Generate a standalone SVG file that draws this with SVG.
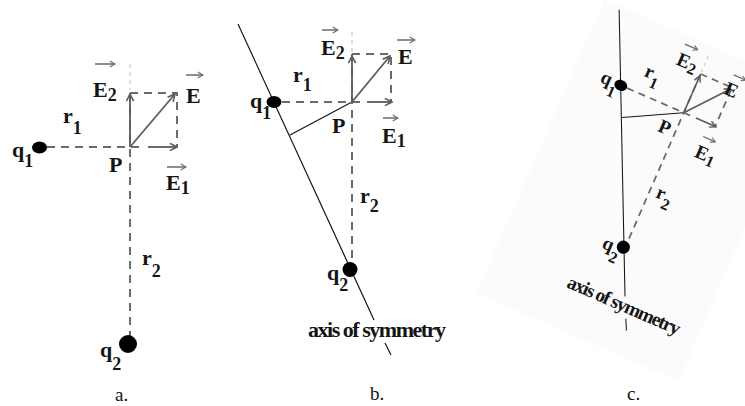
<svg xmlns="http://www.w3.org/2000/svg" width="745" height="406" viewBox="0 0 745 406">
<style>
.lbl{font-family:"Liberation Serif","Times New Roman",serif;font-weight:bold;font-size:22px;fill:#151515}
.sub{font-size:18px}
.cap{font-family:"Liberation Serif","Times New Roman",serif;font-size:19px;fill:#111}
.dash{stroke:#6a6a6a;stroke-width:2;stroke-dasharray:8 6;fill:none}
.faint{stroke:#d2d2d2;stroke-width:1.5;stroke-dasharray:4 4;fill:none}
.vec{stroke:#5c5c5c;stroke-width:1.8;fill:none;marker-end:url(#ah)}
.sym{stroke:#6a6a6a;stroke-width:1.5;fill:none;marker-end:url(#sh)}
.axis{stroke:#151515;stroke-width:1.2;fill:none}
.chg{fill:#000}
</style>
<defs>
<marker id="ah" viewBox="0 0 10 10" refX="9" refY="5" markerWidth="5" markerHeight="5" orient="auto">
<path d="M1,1 L9,5 L1,9" fill="none" stroke="#5c5c5c" stroke-width="1.8"/>
</marker>
<marker id="sh" viewBox="0 0 10 10" refX="9" refY="5" markerWidth="5" markerHeight="5" orient="auto">
<path d="M2,1 L9,5 L2,9" fill="none" stroke="#6a6a6a" stroke-width="1.6"/>
</marker>
</defs>

<!-- Panel a -->
<g id="panel-a">
<g id="a-connectors">
<path class="dash" d="M47,147 H141"/>
<path class="dash" d="M130,93 V336"/>
<path class="faint" d="M130,64 V90"/>
<path class="dash" d="M130,93 H177 V147"/>
<path class="vec" d="M148,147 H177"/>
<path class="vec" d="M130,147 V94"/>
<path class="vec" d="M130,147 L175,94"/>
<path class="sym" d="M95,64 H115"/>
<path class="sym" d="M186,75 H203"/>
<path class="sym" d="M167,167 H186"/>
</g>
<g id="a-q1"><ellipse class="chg" cx="39.5" cy="147.5" rx="7.5" ry="6"/><text class="lbl" x="12" y="157">q<tspan class="sub" dy="10">1</tspan></text></g>
<g id="a-q2"><circle class="chg" cx="128" cy="344" r="9"/><text class="lbl" x="100" y="357">q<tspan class="sub" dy="13">2</tspan></text></g>
<g id="a-P"><text class="lbl" x="109" y="172">P</text></g>
<g id="a-labels">
<text class="lbl" x="93" y="97">E<tspan class="sub" dy="4">2</tspan></text>
<text class="lbl" x="186" y="103">E</text>
<text class="lbl" x="166" y="190">E<tspan class="sub" dy="4">1</tspan></text>
<text class="lbl" x="63" y="123">r<tspan class="sub" dy="11">1</tspan></text>
<text class="lbl" x="142" y="265">r<tspan class="sub" dy="12">2</tspan></text>
<text class="cap" x="115" y="401">a.</text>
</g>
</g>

<!-- Panel b -->
<g id="panel-b">
<g id="b-connectors">
<path class="axis" d="M238,24 L374,320 M385,343 L391,355"/>
<path class="axis" d="M352,102 L290,135"/>
<path class="dash" d="M282,102 H360"/>
<path class="dash" d="M352,54 V262"/>
<path class="faint" d="M352,32 V52"/>
<path class="dash" d="M352,54 H391 V102"/>
<path class="vec" d="M367,102 H392"/>
<path class="vec" d="M352,102 V56"/>
<path class="vec" d="M352,102 L390,56"/>
<path class="sym" d="M322,30 H338"/>
<path class="sym" d="M397,40 H415"/>
<path class="sym" d="M383,118 H398"/>
</g>
<g id="b-q1"><ellipse class="chg" cx="274" cy="102" rx="7.5" ry="6"/><text class="lbl" x="250" y="108">q<tspan class="sub" dy="11">1</tspan></text></g>
<g id="b-q2"><circle class="chg" cx="350" cy="269.5" r="7.5"/><text class="lbl" x="327" y="280">q<tspan class="sub" dy="11">2</tspan></text></g>
<g id="b-P"><text class="lbl" x="332" y="133">P</text></g>
<g id="b-labels">
<text class="lbl" x="321" y="55">E<tspan class="sub" dy="4">2</tspan></text>
<text class="lbl" x="398" y="64">E</text>
<text class="lbl" x="382" y="143">E<tspan class="sub" dy="4">1</tspan></text>
<text class="lbl" x="293" y="82">r<tspan class="sub" dy="9">1</tspan></text>
<text class="lbl" x="360" y="203">r<tspan class="sub" dy="9">2</tspan></text>
<text class="lbl" x="308" y="337" font-size="19.5" textLength="138">axis of symmetry</text>
<text class="cap" x="370" y="400">b.</text>
</g>
</g>

<!-- Panel c : panel b rotated so the axis is vertical -->
<g id="panel-c">
<g transform="translate(620,85) rotate(23.5) scale(0.88) translate(-273,-102)">
<rect x="218" y="20" width="250" height="364" fill="#fbfbfb"/>
<g id="c-connectors">
<path class="axis" d="M238,24 L374,320 M385,343 L391,355"/>
<path class="axis" d="M352,102 L290,135"/>
<path class="dash" d="M282,102 H360"/>
<path class="dash" d="M352,54 V262"/>
<path class="faint" d="M352,32 V52"/>
<path class="dash" d="M352,54 H391 V102"/>
<path class="vec" d="M367,102 H392"/>
<path class="vec" d="M352,102 V56"/>
<path class="vec" d="M352,102 L390,56"/>
<path class="sym" d="M322,30 H338"/>
<path class="sym" d="M387,40 H402"/>
<path class="sym" d="M383,118 H398"/>
</g>
<g id="c-q1"><ellipse class="chg" cx="274" cy="102" rx="7.5" ry="6"/><text class="lbl" x="250" y="108">q<tspan class="sub" dy="11">1</tspan></text></g>
<g id="c-q2"><circle class="chg" cx="350" cy="269.5" r="7.5"/><text class="lbl" x="327" y="280">q<tspan class="sub" dy="11">2</tspan></text></g>
<g id="c-P"><text class="lbl" x="332" y="133">P</text></g>
<g id="c-labels">
<text class="lbl" x="321" y="55">E<tspan class="sub" dy="4">2</tspan></text>
<text class="lbl" x="384" y="64" font-size="19">E</text>
<text class="lbl" x="382" y="143">E<tspan class="sub" dy="4">1</tspan></text>
<text class="lbl" x="293" y="82">r<tspan class="sub" dy="9">1</tspan></text>
<text class="lbl" x="360" y="203">r<tspan class="sub" dy="9">2</tspan></text>
<text class="lbl" x="308" y="337" font-size="19.5" textLength="138">axis of symmetry</text>
</g>
</g>
<text class="cap" x="627" y="400">c.</text>
</g>
</svg>
